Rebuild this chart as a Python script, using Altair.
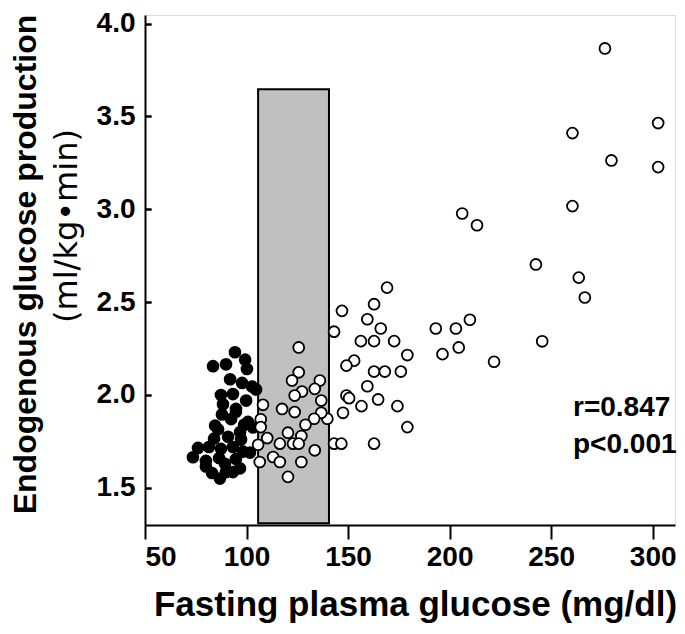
import altair as alt
import pandas as pd

# ---- data ----
FILLED_FPG = [94.3, 99.3, 83.5, 89.9, 100.2, 91.9, 97.8, 102.7, 104.7, 87.4,
              93.3, 99.8, 88.4, 94.8, 87.9, 92.4, 100.7, 103.2, 84.5, 86.0,
              96.8, 90.9, 84.0, 97.3, 76.1, 81.5, 87.4, 93.3, 101.7, 73.6,
              80.0, 86.5, 94.8, 80.0, 89.4, 96.8, 83.0, 89.9, 93.3, 86.9,
              98.8, 94.8, 98.3]
FILLED_EGP = [2.23, 2.19, 2.155, 2.165, 2.14, 2.085, 2.065, 2.045, 2.03, 2.0,
              2.005, 1.97, 1.95, 1.925, 1.895, 1.87, 1.855, 1.825, 1.835, 1.815,
              1.80, 1.775, 1.765, 1.76, 1.715, 1.72, 1.71, 1.72, 1.69, 1.665,
              1.645, 1.66, 1.655, 1.615, 1.63, 1.605, 1.58, 1.585, 1.585, 1.55,
              1.84, 1.91, 1.695]

OPEN_FPG = [276.5, 302.7, 260.5, 279.7, 302.7, 260.5, 206.2, 213.5, 242.5, 263.6,
            266.6, 245.6, 221.9, 169.2, 147.0, 162.8, 159.5, 143.1, 166.1, 156.3,
            162.8, 172.7, 193.2, 203.1, 210.0, 204.5, 196.5, 179.2, 153.0, 149.2,
            162.8, 168.1, 176.0, 159.5, 149.2, 150.5, 164.8, 156.6, 174.3, 147.5,
            139.8, 179.2, 143.1, 146.7, 162.8, 125.7, 125.7, 122.4, 127.3, 136.1,
            133.6, 136.8, 123.7, 117.5, 123.7, 108.1, 136.8, 133.3, 129.0, 107.0,
            107.0, 120.4, 110.2, 127.0, 116.4, 122.9, 125.7, 105.7, 133.6, 113.1,
            106.5, 116.4, 127.0, 120.4]
OPEN_EGP = [3.866, 3.464, 3.41, 3.263, 3.227, 3.017, 2.977, 2.914, 2.703, 2.632,
            2.525, 2.289, 2.179, 2.578, 2.453, 2.489, 2.408, 2.341, 2.358, 2.29,
            2.29, 2.29, 2.358, 2.358, 2.405, 2.256, 2.22, 2.215, 2.185, 2.158,
            2.126, 2.126, 2.126, 2.047, 1.997, 1.983, 1.976, 1.94, 1.94, 1.904,
            1.872, 1.827, 1.738, 1.738, 1.738, 2.256, 2.122, 2.078, 2.019, 2.078,
            2.033, 1.97, 1.997, 1.925, 1.908, 1.947, 1.904, 1.872, 1.84, 1.869,
            1.827, 1.797, 1.768, 1.779, 1.738, 1.738, 1.738, 1.732, 1.702, 1.666,
            1.639, 1.639, 1.639, 1.559]

BAND_FPG = [105.7, 140.6]
BAND_EGP = [1.31, 3.646]

X_TICKS = [50, 100, 150, 200, 250, 300]
Y_TICKS = [1.5, 2.0, 2.5, 3.0, 3.5, 4.0]
X_DOMAIN = [50, 311]
Y_DOMAIN = [1.30, 4.046]

STATS = ["r=0.847", "p<0.001"]

FONT = "Liberation Sans"
W, H = 530, 510

filled = pd.DataFrame({"fpg": FILLED_FPG, "egp": FILLED_EGP})
opened = pd.DataFrame({"fpg": OPEN_FPG, "egp": OPEN_EGP})
band = pd.DataFrame({"x1": [BAND_FPG[0]], "x2": [BAND_FPG[1]],
                     "y1": [BAND_EGP[0]], "y2": [BAND_EGP[1]]})

xscale = alt.Scale(domain=X_DOMAIN, nice=False, zero=False)
yscale = alt.Scale(domain=Y_DOMAIN, nice=False, zero=False)

x_axis = alt.Axis(orient="bottom", values=X_TICKS, format="d",
                  title="Fasting plasma glucose (mg/dl)",
                  domain=True, ticks=True, labels=True,
                  tickSize=14, tickWidth=2, tickColor="black", domainWidth=2,
                  domainColor="black", labelFontSize=28, labelFontWeight="bold",
                  labelColor="black", labelFont=FONT, labelPadding=4, grid=False,
                  titleFont=FONT, titleFontSize=35, titleFontWeight="bold",
                  titleColor="black", titleBaseline="alphabetic", titleY=90,
                  titleX=270, titleAlign="center")

y_axis_main = alt.Axis(orient="left", values=Y_TICKS, format=".1f",
                       title="Endogenous glucose production",
                       domain=True, ticks=False, labels=True, tickSize=0,
                       domainWidth=2, domainColor="black",
                       labelFontSize=28, labelFontWeight="bold", labelColor="black",
                       labelFont=FONT, labelPadding=10, grid=False,
                       titleFont=FONT, titleFontSize=32, titleFontWeight="bold",
                       titleColor="black", titleAngle=270, titleX=-120, titleY=H / 2 - 6,
                       titleAlign="center", titleBaseline="middle")

y_axis_ticks = alt.Axis(orient="left", values=Y_TICKS, offset=-6, tickSize=6,
                        ticks=True, tickWidth=2, tickColor="black", domain=False,
                        labels=False, grid=False, title=None)

rect = alt.Chart(band).mark_rect(fill="#c0c0c0", stroke="black", strokeWidth=2).encode(
    x=alt.X("x1:Q", scale=xscale, axis=x_axis),
    x2="x2:Q",
    y=alt.Y("y1:Q", scale=yscale, axis=y_axis_main),
    y2="y2:Q",
)

black_pts = alt.Chart(filled).mark_point(
    shape="circle", filled=True, fill="black", stroke="black", strokeWidth=1.8,
    size=118, opacity=1
).encode(
    x=alt.X("fpg:Q", scale=xscale, axis=x_axis),
    y=alt.Y("egp:Q", scale=yscale, axis=y_axis_ticks),
)

white_pts = alt.Chart(opened).mark_point(
    shape="circle", filled=True, fill="white", stroke="black", strokeWidth=1.8,
    size=118, opacity=1
).encode(
    x=alt.X("fpg:Q", scale=xscale, axis=x_axis),
    y=alt.Y("egp:Q", scale=yscale, axis=y_axis_ticks),
)

stat1 = alt.Chart(band).mark_text(
    text=STATS[0], align="left", baseline="alphabetic", font=FONT,
    fontSize=28, fontWeight="bold", color="black"
).encode(x=alt.value(428), y=alt.value(401))

stat2 = alt.Chart(band).mark_text(
    text=STATS[1], align="left", baseline="alphabetic", font=FONT,
    fontSize=28, fontWeight="bold", color="black"
).encode(x=alt.value(428), y=alt.value(438))

unit = alt.Chart(band).mark_text(
    text="(ml/kg\u2022min)", align="center", baseline="middle", angle=270,
    font="DejaVu Sans", fontSize=32, color="black"
).encode(x=alt.value(-78), y=alt.value(211))

chart = alt.layer(rect, black_pts, white_pts, stat1, stat2, unit).resolve_axis(
    y="independent"
).properties(
    width=W, height=H,
    autosize=alt.AutoSizeParams(type="none"),
    padding={"left": 137, "top": 7, "right": 2, "bottom": 100},
).configure_view(stroke="transparent", strokeWidth=0, strokeOpacity=0).configure_axis(
    domain=False, ticks=False, grid=False, labels=False
).configure(background="white")

chart.save("out.html", embed_options={"renderer": "svg", "actions": False})
